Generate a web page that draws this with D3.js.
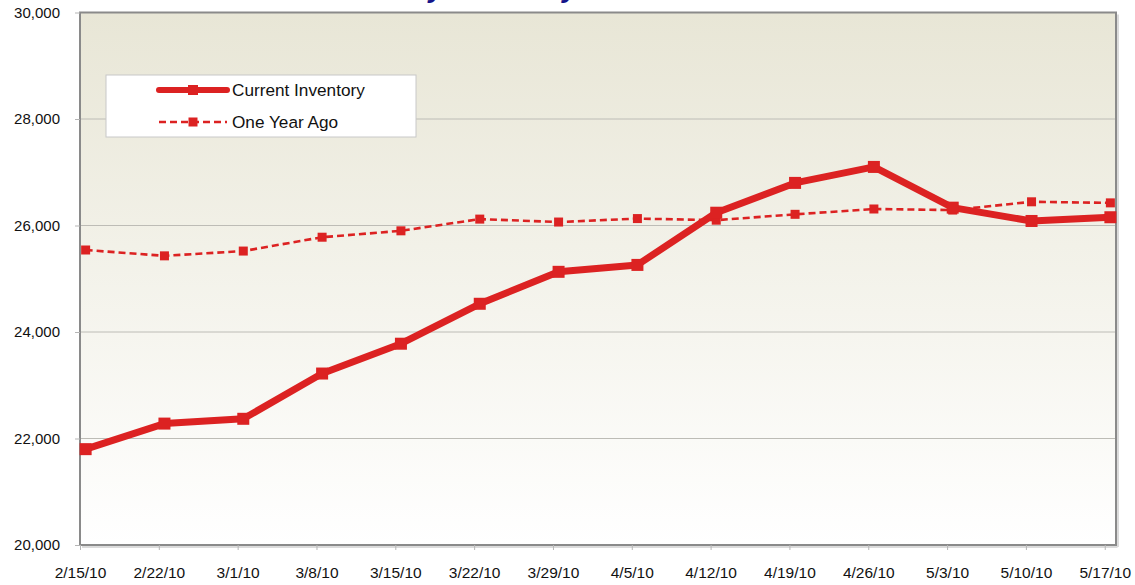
<!DOCTYPE html>
<html>
<head>
<meta charset="utf-8">
<script src="https://cdn.jsdelivr.net/npm/d3@7"></script>
<style>
  body { margin: 0; background: #fff; }
  svg { display: block; font-family: "Liberation Sans", Arial, sans-serif; }
</style>
</head>
<body>
<svg id="chart" width="1135" height="585"></svg>
<script>
// week dates shown on the x axis
var weeks = ["2/15/10", "2/22/10", "3/1/10", "3/8/10", "3/15/10", "3/22/10", "3/29/10",
             "4/5/10", "4/12/10", "4/19/10", "4/26/10", "5/3/10", "5/10/10", "5/17/10"];
var currentInventory = [21800, 22280, 22370, 23220, 23780, 24530, 25130,
                        25260, 26240, 26800, 27100, 26335, 26085, 26155];
var oneYearAgo = [25540, 25430, 25520, 25780, 25900, 26120, 26065,
                  26130, 26100, 26210, 26310, 26290, 26445, 26425];
var yTicks = [20000, 22000, 24000, 26000, 28000, 30000];

var parse = d3.timeParse("%m/%d/%y");
var dates = weeks.map(parse);

var svg = d3.select("#chart"),
    plotLeft = 80, plotRight = 1116, plotTop = 12.5, plotBottom = 545;

var x = d3.scaleTime()
    .domain([dates[0], d3.timeDay.offset(dates[dates.length - 1], 1)])
    .range([plotLeft, plotRight]);
var y = d3.scaleLinear().domain([20000, 30000]).range([plotBottom, plotTop]);

// points sit at midday of each week date
function px(i) { return x(d3.timeHour.offset(dates[i], 12)); }

// title (cut off by the top of the page)
svg.append("text")
    .attr("x", 348).attr("y", -3)
    .attr("font-size", 28).attr("font-weight", "bold").attr("font-style", "italic")
    .attr("fill", "#14148a")
    .text("Weekly Inventory");

// plot background
var defs = svg.append("defs");
var grad = defs.append("linearGradient").attr("id", "bg")
    .attr("x1", 0).attr("y1", 0).attr("x2", 0).attr("y2", 1);
grad.append("stop").attr("offset", "0%").attr("stop-color", "#e8e6d6");
grad.append("stop").attr("offset", "100%").attr("stop-color", "#ffffff");

svg.append("rect")
    .attr("x", plotLeft).attr("y", plotTop)
    .attr("width", plotRight - plotLeft).attr("height", plotBottom - plotTop)
    .attr("fill", "url(#bg)");

// gridlines
svg.append("g").selectAll("line")
    .data(yTicks.slice(1, -1))
    .enter().append("line")
    .attr("x1", plotLeft).attr("x2", plotRight)
    .attr("y1", function (d) { return y(d); })
    .attr("y2", function (d) { return y(d); })
    .attr("stroke", "#bdbcb6").attr("stroke-width", 1);

// frame
svg.append("rect")
    .attr("x", plotLeft).attr("y", plotTop)
    .attr("width", plotRight - plotLeft).attr("height", plotBottom - plotTop)
    .attr("fill", "none").attr("stroke", "#8a8a8a").attr("stroke-width", 2);
svg.append("line")
    .attr("x1", plotLeft + 2).attr("x2", plotRight + 1.5)
    .attr("y1", plotBottom + 2).attr("y2", plotBottom + 2)
    .attr("stroke", "#cfcfcf").attr("stroke-width", 1.5);
svg.append("line")
    .attr("x1", plotRight + 2).attr("x2", plotRight + 2)
    .attr("y1", plotTop + 2).attr("y2", plotBottom + 2)
    .attr("stroke", "#cfcfcf").attr("stroke-width", 1.5);

// y axis
var yAxis = svg.append("g")
    .attr("transform", "translate(" + plotLeft + ",0)")
    .call(d3.axisLeft(y).tickValues(yTicks).tickFormat(d3.format(",")).tickSize(5).tickPadding(15));
yAxis.select(".domain").remove();
yAxis.selectAll(".tick line").attr("stroke", "#b5b5b5");
yAxis.selectAll(".tick text")
    .attr("font-family", "Liberation Sans, Arial, sans-serif")
    .attr("font-size", 15).attr("fill", "#111");

// x axis
var xAxis = svg.append("g")
    .attr("transform", "translate(0," + plotBottom + ")")
    .call(d3.axisBottom(x).tickValues(dates).tickFormat(function (d, i) { return weeks[i]; })
        .tickSize(5).tickPadding(17));
xAxis.select(".domain").remove();
xAxis.selectAll(".tick line").attr("stroke", "#b5b5b5");
xAxis.selectAll(".tick text")
    .attr("font-family", "Liberation Sans, Arial, sans-serif")
    .attr("font-size", 15.5).attr("fill", "#111");

var red = "#dc2222";
var line = d3.line()
    .x(function (d, i) { return px(i); })
    .y(function (d) { return y(d); });

// one year ago (dashed)
svg.append("path")
    .datum(oneYearAgo)
    .attr("d", line)
    .attr("fill", "none").attr("stroke", red)
    .attr("stroke-width", 2.6).attr("stroke-dasharray", "7,4");
svg.append("g").selectAll("rect")
    .data(oneYearAgo)
    .enter().append("rect")
    .attr("x", function (d, i) { return px(i) - 4.5; })
    .attr("y", function (d) { return y(d) - 4.5; })
    .attr("width", 9).attr("height", 9)
    .attr("fill", red);

// current inventory (thick)
svg.append("path")
    .datum(currentInventory)
    .attr("d", line)
    .attr("fill", "none").attr("stroke", red)
    .attr("stroke-width", 7).attr("stroke-linejoin", "round");
svg.append("g").selectAll("rect")
    .data(currentInventory)
    .enter().append("rect")
    .attr("x", function (d, i) { return px(i) - 6; })
    .attr("y", function (d) { return y(d) - 6; })
    .attr("width", 12).attr("height", 12)
    .attr("fill", red);

// legend
var legend = svg.append("g").attr("transform", "translate(106,75)");
legend.append("rect")
    .attr("width", 310).attr("height", 62)
    .attr("fill", "#fff").attr("stroke", "#c8c8c8");
var items = [
    { name: "Current Inventory", width: 6, dash: null, size: 10 },
    { name: "One Year Ago", width: 2.6, dash: "7,4", size: 9 }
];
items.forEach(function (it, k) {
    var g = legend.append("g").attr("transform", "translate(0," + (15 + k * 32) + ")");
    g.append("line")
        .attr("x1", 53).attr("x2", 121)
        .attr("stroke", red).attr("stroke-width", it.width)
        .attr("stroke-dasharray", it.dash).attr("stroke-linecap", it.dash ? "butt" : "round");
    g.append("rect")
        .attr("x", 87 - it.size / 2).attr("y", -it.size / 2)
        .attr("width", it.size).attr("height", it.size)
        .attr("fill", red);
    g.append("text")
        .attr("x", 126).attr("y", 6)
        .attr("font-size", 17.2).attr("fill", "#111")
        .text(it.name);
});
</script>
</body>
</html>
